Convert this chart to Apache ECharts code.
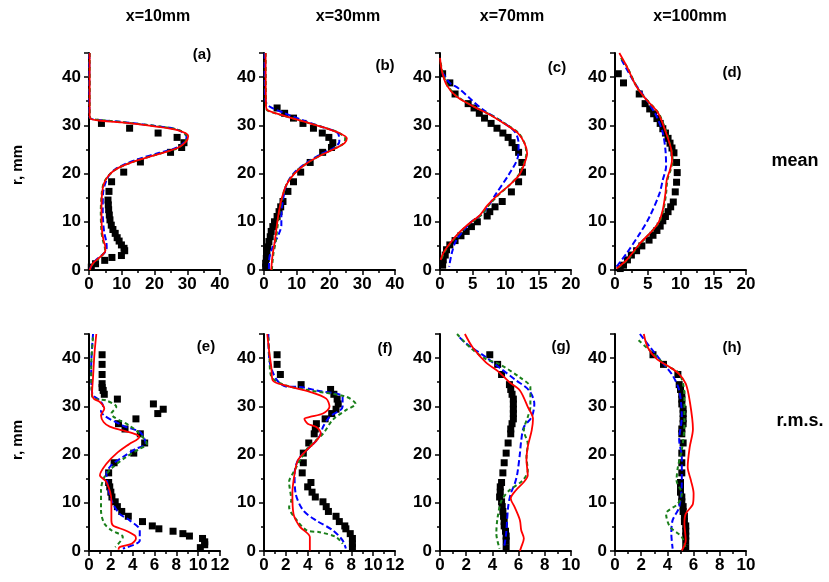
<!DOCTYPE html>
<html>
<head>
<meta charset="utf-8">
<title>profiles</title>
<script src="https://cdn.jsdelivr.net/npm/echarts@6/dist/echarts.min.js"></script>
</head>
<body style="margin:0">
<div id="main" style="width:829px;height:582px;"></div>
<script type="text/javascript">

// measured points: [value, r]
var expA = [[3.8,30.4],[12.4,29.4],[21.1,28.4],[26.9,27.5],[29.0,26.4],[28.3,25.4],[24.9,24.4],[15.7,22.4],[10.6,20.3],[6.9,18.3],[6.1,16.3],[5.8,14.5],[5.9,13.5],[6.0,12.5],[6.2,11.4],[6.4,10.4],[6.8,9.3],[7.3,8.4],[8.0,7.6],[8.6,6.7],[9.2,6.0],[9.9,5.2],[10.7,4.5],[10.9,4.0],[9.9,3.0],[7.0,2.6],[4.8,2.0],[2.0,1.3],[0.7,0.6]];
var redA = [[0.2,45],[0.2,32],[0.6,31.3],[3,31],[10,30.6],[20,29.8],[27,29],[30.3,27.8],[29.5,26.5],[27,25.3],[22,24.2],[16,23],[11,21.8],[8,20.8],[6,19.6],[4.6,18],[4,16],[3.8,12],[4,8],[4.5,6],[5,4.8],[5,4],[4.2,3.2],[2.5,2.2],[1,1.2],[0.2,0]];
var blueA = [[0.1,45],[0.1,32],[0.5,31.4],[3,31.1],[10,30.7],[20,29.9],[27,29.1],[29.8,27.6],[29,26.4],[26.5,25.3],[21.5,24.3],[15.5,23.1],[10.8,21.9],[8,20.9],[6.2,19.7],[5,18],[4.3,16],[4.2,12],[4.6,8],[5.3,5.8],[5.4,4.6],[5,3.8],[3.8,3],[2,2],[0.8,1],[0.2,0]];
var greenA = [[0.2,45],[0.2,32],[0.6,31.4],[3.5,31.1],[11,30.6],[21,29.8],[27.5,29],[30,27.6],[29.2,26.4],[26.8,25.2],[22,24.2],[16,23],[11,21.8],[8.1,20.8],[6,19.6],[4.5,18],[3.9,16],[3.6,12],[3.8,8],[4.3,6],[4.8,4.8],[4.9,4],[4.2,3.2],[2.7,2.2],[1.1,1.2],[0.3,0]];

var expB = [[4.0,33.6],[6.3,32.5],[9.0,31.5],[11.9,30.4],[15.1,29.4],[17.8,28.4],[19.8,27.5],[21.0,26.4],[20.6,25.4],[17.9,24.4],[14.1,22.3],[11.2,20.3],[9.0,18.3],[7.3,16.3],[5.8,14.2],[5.1,13.1],[4.6,12.1],[4.0,11.1],[3.2,10.0],[2.7,9.0],[2.2,8.0],[1.9,6.9],[1.5,5.9],[1.2,4.8],[0.9,3.5],[0.7,2.4],[0.5,1.4],[0.5,0.6]];
var redB = [[0.5,45],[0.6,34],[1,33.2],[5,32.2],[12,30.8],[19,29.4],[23,28.4],[25.3,27.3],[24.6,26.3],[22,25.3],[18,24],[13,22.1],[9.3,20],[6.8,17.6],[5.3,14.5],[4.3,11],[3.3,6],[2.6,3],[2.2,0]];
var blueB = [[0.2,45],[0.3,38],[0.5,35],[1.7,33.9],[6,32.6],[12,31],[18,29.6],[22.5,28.4],[23,26.6],[21,25.2],[17,23.9],[12.5,22],[9,20],[6.8,17.6],[5.8,14.5],[5.3,11.5],[5.3,9.3],[4.6,7.6],[2.7,4.8],[1.7,2.8],[1.5,0]];
var greenB = [[0.5,45],[0.6,34],[1,33.1],[5,32.2],[12,30.8],[19,29.4],[23,28.4],[24.8,27.2],[24.2,26.2],[21.6,25.2],[17.6,23.9],[12.8,22],[9.2,20],[6.8,17.6],[5.4,14.5],[4.5,11],[3.6,6],[2.8,3],[2.4,0]];

var expC = [[0.4,40.7],[1.5,38.8],[2.3,36.5],[4.3,34.5],[5.2,33.6],[6.0,32.5],[6.8,31.5],[7.8,30.4],[8.7,29.4],[9.6,28.4],[10.4,27.5],[11.0,26.4],[11.5,25.4],[12.0,24.4],[12.5,22.3],[12.6,20.3],[12.0,18.3],[10.9,16.2],[9.5,14.2],[8.4,13.1],[7.6,12.1],[7.2,11.2],[5.7,10.0],[4.8,9.0],[4.0,8.0],[3.2,7.1],[2.3,6.1],[1.5,5.2],[1.0,4.2],[0.8,3.1],[0.5,2.1],[0.4,1.0]];
var redC = [[0,44],[0.3,41.2],[1.0,38.4],[2.5,36],[5.1,33.9],[7.6,32.2],[10.1,30.1],[11.9,28.4],[12.9,26.3],[13.3,24.2],[12.9,22.1],[12.1,19.7],[10.6,17.6],[9.1,15.9],[7.3,13.5],[6.1,11.4],[4.5,9.7],[2.8,7.6],[1.5,5.5],[0.5,3.5],[0.1,2.1]];
var blueC = [[0.35,41],[1.5,38.8],[2.8,37.7],[4.8,35.3],[6.6,33.2],[9.1,31.1],[11.4,28.7],[12.0,26.3],[11.9,23.5],[10.6,20],[8.6,15.9],[6.6,11.8],[4.8,10],[2.5,6.2],[1.8,3.5],[1.4,0.7]];
var greenC = [[0.1,43],[0.4,41],[1.1,38.4],[2.6,36],[5.2,33.9],[7.7,32.2],[10.2,30.1],[12,28.4],[12.9,26.3],[13.2,24.2],[12.8,22.1],[12,19.7],[10.6,17.6],[9.2,15.9],[7.5,13.5],[6.3,11.4],[4.6,9.7],[2.9,7.6],[1.6,5.5],[0.6,3.5],[0.2,2.1]];

var expD = [[0.5,40.7],[1.3,38.8],[3.7,36.5],[4.6,34.5],[5.3,33.4],[5.9,32.4],[6.4,31.4],[6.9,30.4],[7.3,29.3],[7.7,28.4],[8.1,27.3],[8.4,26.3],[8.7,25.3],[9.0,24.3],[9.4,22.3],[9.5,20.2],[9.4,18.2],[9.2,16.2],[8.9,14.1],[8.5,13.1],[8.1,12.1],[7.7,11.1],[7.3,10.2],[6.9,9.1],[6.4,8.2],[5.8,7.2],[5.2,6.2],[4.1,5.0],[3.3,4.0],[2.5,3.1],[1.9,2.1],[1.3,1.0],[0.8,0.3]];
var redD = [[0.66,45],[1.8,42.2],[3.3,38],[4.8,35.3],[6.6,32.5],[7.8,28.4],[8.6,24.9],[8.7,22.8],[8.4,20.8],[7.9,18.7],[7.7,15.9],[7.3,12.5],[6.7,10],[5.8,8.3],[3.8,5.5],[1.8,2.1],[0.25,0.3]];
var blueD = [[1.0,43.6],[3.0,38.8],[4.8,35.3],[6.3,32],[7.3,28.4],[7.7,24.9],[7.8,21.5],[7.3,18.7],[6.8,15.9],[5.3,11.1],[3.8,7.6],[1.8,3.5],[0.25,0.7]];
var greenD = [[0.9,44],[1.9,42],[3.4,37.8],[4.9,35.2],[6.7,32.4],[7.9,28.4],[8.6,24.9],[8.8,22.8],[8.5,20.8],[8,18.7],[7.8,15.9],[7.4,12.5],[6.8,10],[5.8,8.3],[3.9,5.5],[1.9,2.1],[0.3,0.3]];

var expE = [[1.2,40.7],[1.2,38.7],[1.2,36.6],[1.2,34.7],[1.2,33.9],[1.3,33.3],[1.4,32.5],[2.6,31.5],[5.9,30.5],[6.8,29.4],[6.3,28.5],[4.3,27.4],[2.7,26.4],[3.3,25.3],[4.7,24.3],[5.1,22.4],[4.1,20.3],[2.3,18.3],[1.8,16.2],[1.8,14.2],[1.9,13.3],[2.0,12.2],[2.1,11.2],[2.4,10.2],[2.6,9.2],[3.0,8.2],[3.6,7.2],[4.9,6.1],[5.8,5.2],[6.4,4.6],[7.7,4.1],[8.6,3.6],[9.2,3.1],[10.4,2.6],[10.6,1.9],[10.6,1.3],[10.2,0.7]];
var redE = [[0.67,45],[0.5,40.9],[0.37,36],[0.28,32.6],[0.43,31.6],[1.0,30.9],[1.4,29.5],[1.1,28.1],[1.35,26.7],[1.9,25.8],[3.1,25],[4.3,24.2],[4.6,23.6],[3.7,22.2],[2.5,20.2],[1.6,18.1],[1.0,15.7],[1.6,14.3],[2.05,10.5],[2.05,6.4],[2.2,5.3],[3.3,4.3],[4.2,3.2],[4.3,2.6],[3.9,1.5],[2.8,0.8],[2.7,0.3]];
var blueE = [[0.37,45],[0.2,38.2],[0.3,32.6],[1.0,31.2],[1.3,30],[1.1,29.0],[3.1,26.0],[4.7,24.6],[5.2,22.2],[4.3,21.2],[3.1,19.5],[2.05,17.8],[1.6,16],[1.75,13.3],[2.05,10.5],[2.8,7.7],[3.7,6.4],[4.65,4.3],[4.65,2.2],[3.1,0.5]];
var greenE = [[0.37,44.3],[0.2,38.2],[0.3,31.9],[1.6,31.2],[2.5,29.9],[2.05,28.5],[3.7,26],[4.65,24.3],[5.3,22.2],[4.65,21.2],[3.4,19.5],[2.2,17.4],[1.4,15.3],[1.1,12.6],[1.1,8.4],[1.4,5.7],[2.05,4.3],[3.1,2.9],[2.4,0.8]];

var expF = [[1.2,40.7],[1.2,38.7],[1.5,36.6],[3.4,34.5],[6.1,33.5],[6.4,32.5],[6.7,31.5],[6.8,30.5],[6.6,29.4],[6.2,28.5],[5.6,27.4],[4.8,26.4],[4.7,25.3],[4.6,24.3],[4.1,22.4],[3.6,20.3],[3.6,18.3],[3.5,16.2],[4.3,14.2],[4.0,13.3],[4.4,12.2],[4.7,11.2],[5.4,10.2],[5.7,9.2],[5.9,8.2],[6.6,7.2],[6.9,6.1],[7.4,5.2],[7.5,4.6],[7.9,3.6],[8.1,2.6],[8.1,1.5],[8.1,0.7]];
var redF = [[0.3,45],[0.5,40.9],[0.67,38.2],[0.8,35.4],[2.0,34.3],[4.2,33],[5.7,31.6],[6.0,29.9],[5.4,28.5],[4.2,27.8],[3.7,27.4],[4.0,26.4],[4.8,25.7],[5.2,24.3],[4.8,22.9],[3.9,20.9],[3.1,18.8],[2.8,16],[2.6,11.9],[2.7,7.7],[3.3,5],[4.2,2.9],[4.2,0.1]];
var blueF = [[0.4,45],[0.5,39.5],[1.1,35.7],[2.0,34.1],[3.3,34],[4.8,33.3],[7.2,32],[7.2,29.9],[6.0,27.8],[5.4,25.7],[5.2,24.3],[4.8,22.9],[3.9,20.9],[3.1,18.8],[2.8,16],[2.9,11.9],[3.6,8.4],[4.8,6.3],[6.3,4.3],[7.2,2.2],[7.5,0.5]];
var greenF = [[0.4,44.3],[0.5,40],[0.67,36.2],[1.9,34.4],[4.2,33.3],[7.5,32],[8.4,30.5],[7.5,29.2],[6.3,27.2],[5.4,24.3],[4.1,21.6],[3.3,18.8],[2.8,16.7],[2.3,14.3],[2.5,10.5],[2.3,9.1],[3.0,6.4],[3.9,4.3],[5.1,3.9],[6.6,2.9],[7.2,1.5]];

var expG = [[3.8,40.7],[4.4,38.7],[4.7,36.6],[5.3,34.5],[5.4,33.5],[5.5,32.5],[5.6,31.5],[5.6,30.5],[5.6,29.4],[5.6,28.5],[5.6,27.4],[5.5,26.4],[5.4,25.3],[5.4,24.3],[5.2,22.4],[5.05,20.3],[4.9,18.3],[4.8,16.2],[4.7,14.2],[4.6,13.3],[4.6,12.2],[4.55,11.2],[4.7,10.2],[4.75,9.2],[4.8,8.2],[4.85,7.2],[4.9,6.1],[4.9,5.2],[5.0,4.1],[5.05,3.1],[5.05,2.1],[5.05,0.7]];
var redG = [[1.9,45],[2.5,42.2],[3.5,39.1],[4.5,37.1],[5.3,35],[6.1,33.3],[6.7,29.9],[7.1,27.4],[7.0,25.0],[6.7,21.6],[6.6,18.8],[6.7,15.7],[6.4,14.3],[5.8,12.6],[5.4,10.9],[5.7,9.1],[6.1,6.4],[6.2,4.3],[6.4,2.6],[6.2,0.8],[6.1,0]];
var blueG = [[1.5,44.3],[2.0,43],[3.5,40.2],[4.5,38.1],[5.8,35.4],[6.8,33.3],[7.2,30.5],[7.0,27.8],[6.4,25.7],[6.2,22.9],[6.1,20.2],[5.9,16],[5.7,13.9],[5.4,11.9],[5.2,9.1],[5.05,3.6],[4.9,0.8]];
var greenG = [[1.3,45],[2.3,42.2],[3.5,39.8],[4.5,38.8],[6.1,36],[6.9,33.9],[6.9,29.9],[6.7,27.8],[6.4,25],[6.7,22.2],[6.6,19.5],[6.7,16.7],[6.3,14.6],[5.3,12.6],[4.7,10.5],[4.4,7],[4.3,3.6],[4.55,0.5]];

var expH = [[2.9,40.7],[3.7,38.7],[4.8,36.6],[4.9,34.5],[5.0,33.5],[5.1,32.5],[5.1,31.5],[5.1,30.5],[5.2,29.4],[5.2,28.5],[5.2,27.4],[5.2,26.4],[5.1,25.3],[5.1,24.3],[5.2,22.4],[5.1,20.3],[5.1,18.3],[5.1,16.2],[5.0,14.2],[5.0,13.3],[5.0,12.2],[5.1,11.2],[5.1,10.2],[5.2,9.2],[5.2,8.2],[5.3,7.2],[5.3,6.1],[5.4,5.2],[5.4,4.1],[5.4,3.1],[5.4,2.1],[5.4,0.7]];
var redH = [[2.2,45],[2.5,42.2],[3.2,39.8],[4.2,38.1],[4.9,36.7],[5.4,34.7],[5.7,31.2],[5.95,25.3],[5.7,21.5],[5.55,17.4],[5.8,14.6],[6.0,11.9],[5.95,9.8],[5.4,7.7],[5.3,5.7],[5.4,2.2],[5.1,0.1]];
var blueH = [[1.9,45],[2.7,42.2],[3.7,38.8],[4.4,36.4],[4.9,33.3],[5.1,27.8],[4.9,23],[5.1,19.5],[5.1,14.6],[4.9,9.1],[4.4,6.4],[4.3,3.6],[4.4,0.5]];
var greenH = [[1.8,43.7],[2.8,41.2],[3.9,38.5],[4.8,37.1],[5.2,34.7],[5.3,31.2],[5.3,26.4],[5.1,20.9],[4.8,17.4],[4.7,14.6],[5.1,11.9],[4.8,9.8],[3.9,7.7],[4.2,5],[5.1,2.9],[5.4,0.5]];

var panelNames = ['(a)','(b)','(c)','(d)','(e)','(f)','(g)','(h)'];
var columnTitles = ['x=10mm','x=30mm','x=70mm','x=100mm'];
var xMax = [40, 40, 20, 20, 12, 12, 10, 10];
var xStep = [10, 10, 5, 5, 2, 2, 2, 2];

var exps = [expA, expB, expC, expD, expE, expF, expG, expH];
var reds = [redA, redB, redC, redD, redE, redF, redG, redH];
var blues = [blueA, blueB, blueC, blueD, blueE, blueF, blueG, blueH];
var greens = [greenA, greenB, greenC, greenD, greenE, greenF, greenG, greenH];

var lefts = [89, 264, 440, 615];
var tops = [53, 334];
var FONT = '"Liberation Sans", Arial, sans-serif';

var chartDom = document.getElementById('main');
var myChart = echarts.init(chartDom);

var grids = [], xAxes = [], yAxes = [], series = [], graphics = [];

for (var i = 0; i < 8; i++) {
  var col = i % 4, row = Math.floor(i / 4);
  grids.push({left: lefts[col], top: tops[row], width: 131, height: 217});
  var axisCommon = {
    gridIndex: i,
    type: 'value',
    splitLine: {show: false},
    axisLine: {show: true, onZero: false, lineStyle: {color: '#000', width: 2}},
    axisTick: {show: true, length: 5, lineStyle: {color: '#000', width: 1.5}},
    minorTick: {show: true, splitNumber: 2, length: 3, lineStyle: {color: '#000', width: 1.5}},
    minorSplitLine: {show: false}
  };
  xAxes.push(Object.assign({}, axisCommon, {
    min: 0, max: xMax[i], interval: xStep[i],
    axisLabel: {color: '#000', fontWeight: 'bold', fontSize: 17, fontFamily: FONT, margin: 6}
  }));
  yAxes.push(Object.assign({}, axisCommon, {
    min: 0, max: 45, interval: 10,
    axisLabel: {color: '#000', fontWeight: 'bold', fontSize: 17, fontFamily: FONT, margin: 8, showMaxLabel: false}
  }));

  series.push({
    type: 'scatter', xAxisIndex: i, yAxisIndex: i, data: exps[i],
    symbol: 'rect', symbolSize: 7, itemStyle: {color: '#000', opacity: 1}, z: 2
  });
  series.push({
    type: 'line', xAxisIndex: i, yAxisIndex: i, data: blues[i], showSymbol: false, smooth: 0.3,
    lineStyle: {color: '#0000ff', width: 2, type: [6, 3]}, z: 3
  });
  series.push({
    type: 'line', xAxisIndex: i, yAxisIndex: i, data: greens[i], showSymbol: false, smooth: 0.3,
    lineStyle: {color: '#1a7f1a', width: 2, type: [4, 3]}, z: 4
  });
  series.push({
    type: 'line', xAxisIndex: i, yAxisIndex: i, data: reds[i], showSymbol: false, smooth: 0.3,
    lineStyle: {color: '#ff0000', width: 1.8}, z: 5
  });
}

// panel letters
var letterPos = [[202,55],[385,66],[557,68],[732,73],[206,347],[385,349],[561,347],[732,348]];
letterPos.forEach(function (p, i) {
  graphics.push({type: 'text', x: p[0], y: p[1], style: {
    text: panelNames[i], fill: '#000', font: 'bold 15px ' + FONT, textAlign: 'center', textVerticalAlign: 'middle'}});
});
var titleX = [158, 348, 512, 690];
columnTitles.forEach(function (t, i) {
  graphics.push({type: 'text', x: titleX[i], y: 17, style: {
    text: t, fill: '#000', font: 'bold 16px ' + FONT, textAlign: 'center', textVerticalAlign: 'middle'}});
});
[165, 440].forEach(function (y) {
  graphics.push({type: 'text', x: 18, y: y, rotation: Math.PI / 2, style: {
    text: 'r, mm', fill: '#000', font: 'bold 15px ' + FONT, textAlign: 'center', textVerticalAlign: 'middle'}});
});
graphics.push({type: 'text', x: 795, y: 161, style: {
  text: 'mean', fill: '#000', font: 'bold 18px ' + FONT, textAlign: 'center', textVerticalAlign: 'middle'}});
graphics.push({type: 'text', x: 800, y: 421, style: {
  text: 'r.m.s.', fill: '#000', font: 'bold 18px ' + FONT, textAlign: 'center', textVerticalAlign: 'middle'}});

var option = {
  backgroundColor: '#fff',
  animation: false,
  grid: grids,
  xAxis: xAxes,
  yAxis: yAxes,
  series: series,
  graphic: graphics
};

option && myChart.setOption(option);
</script>
</body>
</html>
